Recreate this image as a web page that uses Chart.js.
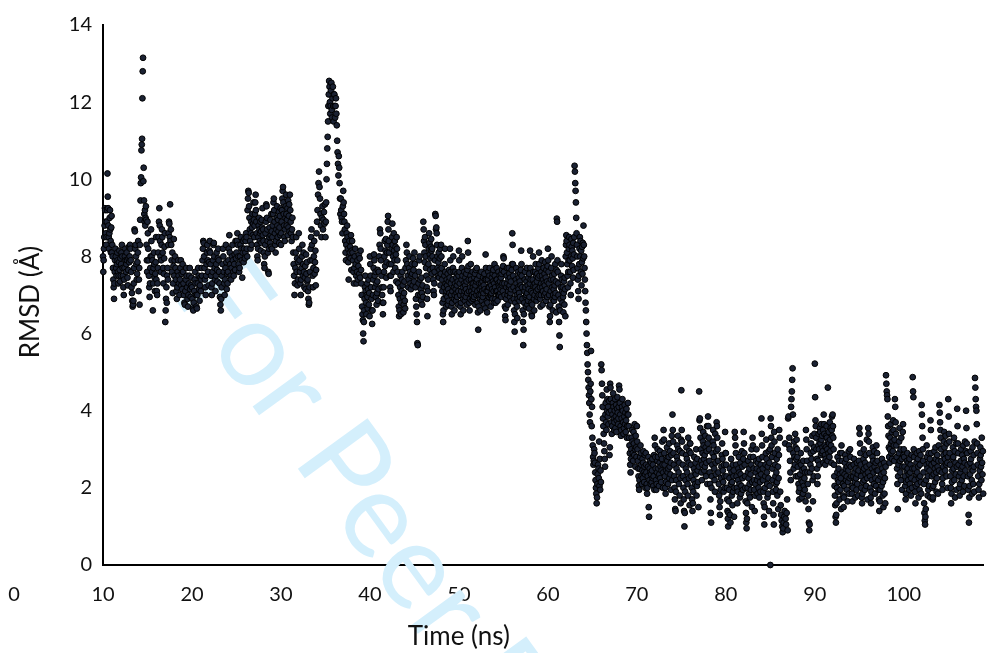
<!DOCTYPE html>
<html lang="en">
<head>
<meta charset="UTF-8">
<title>RMSD over time</title>
<script src="https://cdn.jsdelivr.net/npm/chart.js@4"></script>
<style>
  * { margin: 0; padding: 0; }
  body { background: #fff; width: 988px; height: 653px; overflow: hidden; }
</style>
</head>
<body>
<canvas id="chart" width="988" height="653"></canvas>
<script>
// RMSD, one inner list per nanosecond of time
const rmsd10s = [
  [8.0,7.6,7.9,8.2,8.5,8.8,9.25,9.2,8.9,8.6,8.3,8.5,8.9,9.2,10.15,9.55,9.25,8.8,8.5,8.2,8.6,9.0,9.2,8.7,8.4,8.1,8.75,9.05],
  [8.1,8.3,8.0,7.7,7.4,7.2,6.9,7.3,7.6,7.9,8.2,8.0,7.7,7.5,7.8,8.1,7.9,7.6,7.3,7.5,7.85,8.15,7.65,7.35,7.95],
  [7.5,7.8,8.1,8.3,8.0,7.7,7.5,7.2,7.0,7.4,7.7,8.0,8.2,7.9,7.6,7.8,8.1,7.9,7.45,7.25,7.65,7.95,8.25,7.85],
  [8.0,8.3,8.2,7.9,7.6,7.2,7.05,6.85,6.7,6.75,6.85,7.3,7.7,8.7,8.65,8.2,8.3,8.0,7.8,7.4,7.55,7.85,8.1,8.4],
  [7.1,7.4,7.7,6.75,8.3,8.95,9.45,9.9,10.05,10.75,10.9,11.05,12.1,12.8,13.15,9.95,10.3,9.45,9.1,8.9,9.2,8.8,9.0,9.3,8.95,8.3,7.9,7.6],
  [8.9,8.6,8.2,7.9,7.5,7.2,6.95,7.3,7.7,8.0,8.7,8.4,8.0,7.6,7.9,6.6,7.3,7.7,8.1,7.8,7.45,7.1,7.55,7.85,8.5],
  [7.4,7.1,7.0,7.3,7.7,8.1,8.5,8.9,9.25,8.8,8.4,8.0,7.6,7.9,8.3,8.7,8.5,8.1,7.7,7.3,7.55,7.95,8.25,8.6],
  [6.3,6.6,6.9,7.2,6.8,7.5,7.7,7.4,8.3,8.6,8.9,8.85,8.5,9.35,8.4,8.7,8.3,7.9,7.6,8.1,7.05,7.3,7.75,8.45],
  [7.5,7.9,8.0,7.7,7.4,7.1,6.9,7.2,7.6,7.9,7.5,7.3,7.0,7.4,7.7,7.9,7.25,7.55,7.15,7.8],
  [7.6,7.3,7.0,6.8,6.75,7.1,7.4,7.7,7.5,7.2,6.9,6.7,7.0,7.3,7.5,7.7,7.15,6.95,7.25,7.45]
];
const rmsd20s = [
  [7.2,6.9,6.65,6.6,6.8,7.1,7.4,7.6,7.3,7.0,6.7,6.65,7.0,7.3,7.7,7.5,7.15,6.85,7.25,7.45],
  [7.1,7.4,7.7,7.5,7.9,8.2,8.4,8.35,8.0,7.7,7.4,7.2,7.0,7.5,7.8,8.1,8.3,7.9,7.6,7.25,7.85,8.15],
  [8.4,8.1,7.8,7.5,7.2,7.0,7.3,7.6,7.9,8.3,8.35,8.0,7.7,7.4,7.1,7.5,7.8,8.1,7.65,7.35,7.95,8.2],
  [7.9,7.6,7.3,6.95,6.75,6.6,6.9,7.2,7.5,7.8,8.2,8.0,7.6,7.3,7.0,7.4,7.7,8.3,7.85,7.15,7.55],
  [7.3,7.6,7.9,8.2,8.55,8.1,7.8,7.5,7.4,7.7,8.0,8.3,7.9,7.6,7.5,7.8,8.05,7.65,8.4,7.95],
  [8.1,8.4,8.6,8.3,8.0,7.8,7.6,7.7,8.0,8.3,8.5,8.2,7.9,7.45,8.1,8.4,7.85,8.2,8.45,7.95],
  [8.1,8.4,8.6,8.5,8.2,8.0,9.2,9.5,9.7,9.65,9.3,9.0,8.7,8.4,8.2,8.6,8.9,8.3,8.75,9.1,8.55,8.85,9.4,8.95],
  [8.5,8.8,9.1,9.4,9.6,9.2,8.9,8.6,8.3,8.0,7.9,8.2,8.5,8.8,9.0,8.7,8.4,8.6,8.9,8.15,8.65,8.35,8.95,8.75,9.25,8.55],
  [8.7,8.4,8.1,7.8,7.7,8.0,8.3,8.6,8.9,9.35,9.3,9.0,8.7,8.4,8.1,7.6,7.55,8.2,8.5,8.75,8.35,8.95,8.55,8.25,9.1,8.65],
  [8.2,8.5,8.8,9.1,9.4,9.5,9.2,8.9,8.6,8.3,8.1,8.4,8.7,9.0,9.3,8.8,8.5,8.95,8.65,9.15,8.35,8.75,9.05,8.55,9.25]
];
const rmsd30s = [
  [8.3,8.6,8.9,9.2,9.5,9.7,9.8,9.4,9.1,8.8,8.5,8.4,8.7,9.0,9.3,9.6,9.1,8.8,8.95,9.25,8.55,9.45,8.75,9.05,9.35,8.65],
  [9.6,9.2,8.9,8.6,8.4,8.7,9.0,8.5,8.1,7.8,7.5,7.0,7.3,7.7,8.1,8.5,7.6,7.95,7.25,7.4,7.85],
  [8.6,8.2,7.9,7.6,7.3,7.0,7.4,7.7,8.0,8.3,7.5,7.8,8.1,7.6,7.2,7.45,7.75,7.15,8.05,7.55,7.85,7.35],
  [7.4,7.1,6.9,6.75,6.8,7.2,7.6,7.9,8.2,8.5,8.7,8.3,7.9,7.5,7.2,7.7,8.0,8.4,7.55,7.85,8.15,7.25,7.65],
  [8.6,8.9,9.2,9.6,9.9,10.2,9.8,9.5,9.1,8.8,8.5,9.0,9.3,8.7,8.95,9.15,8.85,9.35],
  [8.5,8.9,9.4,10.0,10.4,10.8,11.1,11.5,11.9,12.2,12.55,12.4,12.0,11.7,11.9,12.3,12.5,11.8,11.6,12.1,12.4,11.9,11.5,12.2],
  [12.2,11.9,11.6,11.9,12.1,11.7,11.4,11.0,10.7,10.4,10.1,10.6,10.3,9.9,9.5,9.1,9.5,9.2,9.0,8.9,8.6,9.3],
  [9.7,9.4,9.1,8.9,8.7,8.4,8.1,7.9,8.3,8.6,8.8,8.5,8.2,7.85,7.4,8.0,8.4,8.1,8.25,7.95,8.55,7.65,8.15],
  [8.4,8.1,7.9,7.6,7.3,7.7,8.0,8.2,7.8,7.5,7.3,7.6,7.9,7.4,7.75,8.05,7.55,7.95,7.45,8.15],
  [7.65,7.3,7.0,6.7,6.5,6.35,6.0,5.8,6.3,6.6,6.9,7.2,7.5,7.1,6.8,6.5,7.0,7.3,6.95,6.65,7.15,7.4,6.75,7.05,6.45]
];
const rmsd40s = [
  [8.0,7.8,7.5,7.2,6.9,6.6,6.25,6.6,7.0,7.4,7.7,8.05,7.9,7.5,7.2,7.6,6.95,7.3,6.75,7.05,7.35,7.65,6.85,7.15],
  [7.6,8.0,8.3,8.7,8.6,8.2,7.9,7.5,7.2,7.0,6.8,6.5,6.8,7.2,7.6,8.0,8.4,7.75,8.15,8.45,7.45,7.85,8.1,8.3],
  [8.9,9.05,8.7,8.4,8.1,7.8,7.5,7.2,7.1,7.5,7.8,8.2,8.5,8.85,8.3,8.0,7.6,8.6,8.15,7.9,8.4,7.7,8.25,8.05,7.35],
  [8.5,8.2,7.9,7.6,7.3,7.0,6.7,6.45,6.6,6.9,7.2,7.5,6.5,6.8,7.1,7.4,7.6,7.25,6.95,6.55,6.75,7.05,7.35,6.85,6.65],
  [7.7,7.9,8.3,8.1,7.8,7.5,7.2,7.4,7.7,8.0,7.6,7.3,7.15,7.5,7.8,7.55,7.25,7.95,7.65,7.35],
  [8.1,7.8,7.5,7.2,6.9,6.7,6.5,6.3,5.75,5.7,7.0,7.3,7.6,7.9,8.0,7.4,7.0,7.15,6.85,7.45,7.05,6.75,7.25,6.95],
  [8.9,8.7,8.4,8.1,7.85,8.5,8.3,8.0,7.7,7.5,7.2,6.9,6.45,7.1,7.4,7.8,8.2,8.6,8.35,8.05,7.65,7.95,8.25,8.45,8.15,7.55],
  [8.2,8.0,7.7,7.4,7.1,7.0,7.3,7.6,7.9,9.1,9.05,8.7,8.75,8.6,8.3,8.0,7.7,7.5,7.85,8.1,7.45,7.65,7.95,8.2,7.25,7.55],
  [8.3,8.0,7.7,7.4,7.1,6.8,6.5,6.3,6.6,6.9,7.2,7.5,7.8,8.2,7.6,7.3,7.0,6.7,7.1,7.4,7.25,6.95,7.55,6.75,7.15,6.85,7.35,7.65,7.05,7.45],
  [8.2,7.9,7.6,7.3,7.0,6.7,6.5,6.8,7.1,7.4,7.7,8.0,7.6,7.2,6.9,6.6,7.0,7.3,7.6,7.15,6.85,7.45,7.05,7.25,6.95,7.55,7.35,6.75,7.1,7.5]
];
const rmsd50s = [
  [8.15,7.9,7.6,7.3,7.0,6.7,6.5,6.8,7.1,7.4,7.7,8.0,7.5,7.2,6.9,6.6,7.0,7.3,7.6,7.1,6.85,7.25,7.45,6.95,7.15,7.55,7.35,6.75,7.05,7.65],
  [8.4,8.1,7.75,7.4,7.1,6.8,6.6,6.9,7.2,7.5,7.8,7.4,7.1,6.85,7.0,7.3,7.6,7.2,6.9,7.3,7.05,6.95,7.45,7.15,7.55,6.75,7.25,7.65,7.35,7.0],
  [7.7,7.4,7.1,6.8,6.55,6.1,6.7,7.0,7.3,7.5,7.15,6.9,6.6,7.0,7.3,7.6,7.2,6.85,7.1,7.35,6.95,7.45,7.05,7.25,6.75,7.55,7.15,7.4,6.65],
  [8.05,7.7,7.4,7.1,6.85,6.55,6.8,7.1,7.4,7.6,7.2,6.95,7.2,7.5,7.7,7.3,7.0,6.7,7.0,7.25,7.05,7.45,7.15,6.9,7.55,7.35,7.65,7.1,6.8,7.3],
  [7.8,7.5,7.2,6.9,6.8,7.1,7.4,7.7,7.4,7.1,6.85,7.0,7.3,7.6,7.25,7.0,7.2,7.5,7.35,7.05,7.15,7.45,6.95,7.55,7.25,7.65,7.3,7.1,7.75],
  [8.0,7.95,7.6,7.3,7.0,6.7,6.45,6.35,6.65,6.9,7.2,7.5,7.7,7.3,7.0,6.75,7.1,7.4,7.7,7.2,7.55,7.25,6.95,7.45,7.05,7.35,7.15,6.85,7.65,7.8],
  [8.6,8.3,7.8,7.5,7.2,6.9,6.6,6.3,6.05,6.5,6.8,7.1,7.4,7.7,7.3,7.0,6.7,6.4,6.9,7.2,7.6,7.15,7.45,7.05,6.85,7.35,6.95,7.55,7.25,7.65],
  [8.15,7.8,7.5,7.2,6.9,6.6,6.3,5.7,6.1,6.5,6.8,7.1,7.4,7.6,7.2,6.95,6.7,7.0,7.35,7.7,7.05,6.75,7.25,6.85,7.45,7.15,6.65,7.55,6.95,7.3],
  [8.15,7.7,7.4,7.1,6.8,6.5,6.45,6.75,7.05,7.4,8.0,7.6,7.25,6.9,6.6,7.0,7.3,7.6,7.2,7.8,7.5,7.1,6.85,7.35,7.55,6.95,7.15,7.45,7.7,7.0],
  [8.1,7.8,7.5,7.2,6.9,6.7,7.0,7.3,7.6,7.9,7.5,7.2,6.75,7.1,7.4,7.7,7.3,7.0,7.55,7.25,7.85,7.05,7.45,6.85,7.65,7.15,7.35,6.95,7.75]
];
const rmsd60s = [
  [8.2,7.9,7.6,7.3,7.0,6.7,6.3,6.45,6.75,7.1,7.4,7.7,8.0,7.5,7.2,6.9,6.6,7.0,7.4,7.15,6.85,7.55,7.25,6.95,7.8,7.05,7.35,6.55,7.65],
  [8.98,8.9,7.9,7.6,7.3,7.0,6.7,6.3,5.95,5.65,6.6,6.9,7.2,7.5,7.8,7.4,7.1,6.8,7.2,6.95,6.55,7.05,7.35,6.75,7.45,7.15,6.45],
  [8.0,8.3,8.55,8.4,8.1,7.8,7.5,7.2,7.6,7.9,8.2,8.5,8.3,7.9,7.6,7.3,7.0,8.0,8.45,8.25,7.75,8.15,7.95,7.45,8.35,7.65,8.05,8.5],
  [10.35,10.2,9.9,9.7,9.4,9.0,8.6,8.3,8.0,7.7,7.4,7.1,6.9,7.5,7.8,8.2,8.5,8.0,8.4,7.6,8.15,7.25,7.85,8.25,7.55,8.35,7.95],
  [8.8,8.3,8.0,7.7,7.4,7.1,6.8,6.6,6.3,6.0,5.7,5.5,5.2,5.0,4.8,4.6,4.4,4.2,3.9,3.7,4.5,4.7,5.55,4.3,3.6,4.1],
  [3.3,3.1,2.8,2.6,2.7,3.0,2.9,2.65,2.4,2.2,2.0,1.85,1.6,1.75,2.1,2.35,2.6,2.5,2.25,3.2,2.05,2.75,1.95,2.45,2.15],
  [5.2,5.05,4.7,4.4,4.1,3.8,3.6,3.4,3.15,2.95,2.75,2.55,3.9,4.2,3.7,3.5,4.55,4.0,4.3,3.85,4.1,3.65,3.95,4.25,2.85,3.05],
  [4.7,4.6,4.3,4.0,3.7,3.4,3.6,3.9,4.2,4.45,4.1,3.8,3.5,3.7,4.0,4.3,3.55,3.85,4.15,3.45,3.75,4.05,4.35,3.95,3.65,3.8,4.1],
  [4.65,4.55,4.2,3.9,3.6,3.35,3.5,3.8,4.1,4.3,4.0,3.7,3.4,3.55,3.85,4.15,3.65,3.95,3.45,3.75,4.05,3.3,3.6,3.9],
  [4.2,3.9,3.6,3.3,3.1,2.9,2.6,2.4,2.75,3.0,3.3,3.5,3.2,2.9,2.7,3.45,3.15,2.85,3.65,3.0,2.55,3.35,3.05,2.8]
];
const rmsd70s = [
  [3.6,3.2,3.0,2.7,2.5,2.3,2.05,1.95,2.2,2.5,2.8,3.1,2.9,2.6,2.3,2.1,2.45,2.75,2.25,2.65,2.95,2.4,2.15,2.55,2.85,2.35,2.0],
  [2.9,2.6,2.4,2.1,1.85,2.0,2.3,2.55,2.8,1.5,1.25,2.2,2.5,2.7,2.4,2.1,2.35,2.65,2.15,2.45,2.75,2.25,2.6,2.05,2.3,2.85,1.95],
  [3.3,3.1,2.8,2.5,2.2,1.95,2.1,2.4,2.7,3.0,2.8,2.5,2.3,2.05,2.35,2.65,2.95,2.25,2.55,2.85,2.15,2.45,2.75,3.2,2.6,2.0,2.4],
  [3.5,3.25,2.9,2.6,2.3,2.0,1.85,2.15,2.45,2.75,3.05,2.7,2.4,2.1,2.5,2.8,3.15,2.25,2.55,2.95,2.35,2.65,1.95,2.85,3.35,2.2],
  [3.9,3.5,3.2,2.9,2.6,2.3,2.0,1.7,1.45,1.4,1.9,2.2,2.5,2.8,3.1,2.7,3.35,3.0,2.4,2.1,2.65,1.8,2.95,2.25,1.6,3.25],
  [4.53,3.5,3.2,2.9,2.6,2.3,2.0,1.7,1.4,1.0,1.35,1.9,2.2,2.5,2.85,3.05,2.75,2.4,2.1,1.8,3.3,2.65,2.25,2.95,1.55,3.15],
  [3.15,2.9,2.6,2.3,2.0,1.7,1.4,1.6,1.9,2.2,2.5,2.8,2.4,2.1,2.65,2.35,3.0,1.8,2.05,2.75,2.45,2.15,1.5,2.55],
  [4.5,3.75,3.8,3.55,3.3,3.0,2.7,2.4,2.2,2.6,2.9,3.2,3.45,3.1,2.75,2.45,2.85,2.55,3.35,3.05,2.3,2.65,2.95,3.6,2.1,3.15],
  [3.85,3.6,3.3,3.0,2.7,2.4,2.1,1.7,1.35,1.1,2.0,2.3,2.6,2.9,3.2,3.5,3.1,2.8,2.5,2.2,1.9,3.4,2.65,2.35,2.95,3.7],
  [3.6,3.3,3.0,2.7,2.4,2.1,1.8,1.5,1.3,1.65,1.95,2.25,2.55,2.85,3.15,2.75,2.45,2.15,1.9,2.6,2.3,2.0,3.45,2.9]
];
const rmsd80s = [
  [2.9,2.6,2.3,2.0,1.7,1.4,1.2,1.0,1.35,1.65,1.95,2.25,2.5,1.3,1.1,2.1,2.75,2.4,1.8,2.15,1.55,2.6,1.9,2.3,2.45,1.25,2.0],
  [3.45,3.3,3.1,2.9,2.6,2.3,2.0,1.6,1.9,2.2,2.5,2.8,2.4,2.1,1.75,2.65,2.35,1.85,2.05,2.95,2.55,2.25,1.95,2.75],
  [3.45,3.15,2.9,2.6,2.3,2.0,1.65,1.35,1.1,0.95,1.2,1.6,2.0,2.4,2.7,2.25,1.85,2.5,2.1,1.75,2.8,2.35,1.95,2.6,3.0,1.5,2.15],
  [3.3,3.1,2.8,2.5,2.2,1.95,1.4,1.8,2.1,2.4,2.7,3.0,2.5,2.2,1.85,2.65,2.3,2.0,2.75,1.75,2.45,2.15,1.9,2.6,2.35],
  [3.8,3.4,3.1,2.8,2.5,2.2,1.9,1.6,1.25,1.05,1.5,2.0,2.3,2.6,2.9,3.25,2.75,2.4,2.1,1.75,2.55,1.85,2.25,2.95,1.4,2.65,2.05,3.0],
  [0,3.8,3.6,3.3,3.1,2.8,2.5,2.2,1.9,1.6,1.3,1.05,3.45,3.2,2.9,2.6,2.3,2.1,1.95,2.4,2.75,2.15,1.8,3.0,2.55,1.45,2.25,2.85],
  [3.5,3.3,1.9,1.55,1.3,1.15,1.0,0.85,0.95,1.1,1.25,1.4,3.15,1.2,1.05,1.35,1.7,0.9],
  [3.8,3.85,3.1,3.3,3.0,2.7,2.4,2.2,4.1,4.3,4.5,4.8,5.1,3.9,2.9,2.5,3.2,2.8,2.6,3.4,3.05,2.3,2.75,3.25],
  [3.0,2.8,2.55,2.3,2.1,1.9,1.7,2.0,2.35,2.65,2.9,2.6,2.2,1.75,2.45,2.15,1.85,2.7,2.05,2.5,2.25,1.95,2.4,1.65],
  [3.5,3.25,3.0,2.7,2.4,2.1,1.8,1.45,1.1,0.9,1.05,2.4,2.6,2.9,3.15,2.75,2.5,3.35,2.2,1.65,2.95,2.3,3.05,3.4]
];
const rmsd90s = [
  [5.22,4.35,3.75,3.6,3.3,3.0,2.75,2.5,2.1,2.3,2.7,3.1,3.4,3.0,2.6,3.2,3.55,3.45,3.15,2.85,3.65,3.25,2.9,3.35,3.05,2.95,3.5,2.65],
  [3.9,3.65,3.4,3.1,2.85,2.6,2.75,3.05,3.35,3.6,3.3,3.0,2.7,4.6,3.2,2.9,3.45,3.15,2.8,3.7,3.25,2.95,3.55,3.1,2.65,3.5,3.85,3.35],
  [3.9,3.6,3.3,3.0,2.6,2.3,2.05,1.8,1.55,1.25,1.1,1.3,1.6,2.0,2.4,2.8,2.2,1.9,2.5,2.15,2.7,1.7,2.35,2.9,1.95,2.25,1.45],
  [3.1,2.9,2.7,2.4,2.1,1.8,1.5,1.75,2.05,2.35,2.65,2.85,2.5,2.2,2.75,2.3,1.95,2.55,1.65,2.15,2.45,2.95,1.85,2.6,2.25,3.0],
  [2.8,2.55,2.3,2.05,1.85,1.65,2.0,2.3,2.6,2.75,2.4,2.15,1.75,2.5,2.25,1.95,2.65,2.1,2.35,1.8,2.45,2.7],
  [3.55,3.4,3.15,2.9,2.6,2.3,2.0,1.75,1.6,1.85,2.15,2.45,2.75,3.0,2.5,2.2,1.95,2.65,2.35,2.85,2.05,2.55,3.25,2.25,1.7,2.4],
  [3.55,3.4,3.2,2.9,2.6,2.3,2.0,1.75,1.6,1.9,2.2,2.5,2.8,3.05,2.7,2.4,2.1,2.95,2.55,1.85,2.25,2.65,2.05,3.1,2.45],
  [2.9,2.7,2.45,2.2,1.95,1.7,1.4,1.65,1.95,2.3,2.6,2.35,2.05,2.75,2.5,1.8,2.15,1.5,2.4,2.65,1.85,2.25,1.6,2.55],
  [4.92,4.7,4.5,4.4,4.3,3.85,3.6,3.35,3.05,2.8,2.65,3.0,3.3,3.65,3.15,2.9,3.45,2.75,3.2,2.95,3.75,3.5,3.1,2.7,3.25],
  [4.3,4.1,3.7,3.4,3.1,2.8,2.5,2.1,1.45,2.3,2.6,2.9,3.2,3.55,2.7,2.4,3.0,2.2,3.3,2.75,1.95,2.55,3.45,3.65,2.85]
];
const rmsd100s = [
  [3.0,2.8,2.55,2.3,2.05,1.7,1.85,2.15,2.45,2.7,2.9,2.5,2.2,2.65,2.35,1.95,2.75,2.1,2.4,2.6,1.8,2.25,2.85,2.0,2.5],
  [4.87,4.5,4.35,3.0,2.8,2.5,2.2,1.9,1.6,2.05,2.35,2.65,2.9,2.4,2.1,2.75,2.55,1.75,2.25,2.95,1.95,2.6,2.3,2.85,2.15,1.85],
  [4.15,3.9,3.6,3.3,3.0,2.7,2.4,2.1,1.6,1.35,1.15,1.05,1.25,1.45,2.2,2.6,3.1,2.8,2.5,1.8,2.3,1.95,2.9,2.65,2.05,2.45,2.75,1.75],
  [3.75,3.5,2.9,2.6,2.3,2.0,1.7,1.75,2.05,2.35,2.65,2.95,2.5,2.15,3.05,2.75,2.4,1.9,2.25,2.85,2.55,1.85,2.7,3.1,2.45],
  [4.15,3.95,3.7,3.5,3.3,3.0,2.7,2.4,2.1,1.95,2.25,2.55,2.85,3.2,3.45,3.05,2.75,2.45,3.35,2.9,2.6,2.3,3.15,2.65,2.0,2.8],
  [4.3,3.85,3.4,3.2,2.9,2.6,2.3,2.0,1.6,1.85,2.15,2.45,2.75,3.05,2.8,2.5,3.3,2.2,2.95,1.75,2.65,2.35,3.15,1.95,2.55],
  [4.05,3.6,3.15,2.9,2.6,2.3,2.0,1.8,2.1,2.4,2.7,3.0,2.5,2.2,2.85,2.55,1.9,3.1,2.3,2.75,2.05,2.65,3.2,2.45,2.95],
  [4.0,3.55,3.15,2.9,2.6,2.3,1.95,1.3,1.1,1.75,2.05,2.35,2.65,2.95,2.75,2.5,2.2,1.85,3.05,2.45,2.1,2.85,2.55,1.9,3.2],
  [4.85,4.6,4.3,4.1,4.0,3.65,3.15,2.9,2.6,2.3,1.95,1.75,2.1,2.45,2.75,3.05,2.85,2.55,2.2,3.3,2.65,2.35,2.95,1.85,3.5]
];
const decades = [rmsd10s, rmsd20s, rmsd30s, rmsd40s, rmsd50s, rmsd60s, rmsd70s, rmsd80s, rmsd90s, rmsd100s];
const xTicks = [0, 10, 20, 30, 40, 50, 60, 70, 80, 90, 100];
const yTicks = [0, 2, 4, 6, 8, 10, 12, 14];

const FONT = 'Lato, "Liberation Sans", sans-serif';

// Frames sit evenly inside their nanosecond
const points = [];
decades.forEach((decade, d) => {
  decade.forEach((row, n) => {
    row.forEach((value, j) => {
      points.push({ x: 10 + d * 10 + n + j / row.length, y: value });
    });
  });
});

const extras = {
  id: 'extras',
  beforeDatasetsDraw(chart) {
    const ctx = chart.ctx;
    // Journal watermark behind the data
    ctx.save();
    ctx.translate(171, 294);
    ctx.rotate(54 * Math.PI / 180);
    ctx.font = '120px ' + FONT;
    ctx.fillStyle = '#d4effc';
    ctx.textAlign = 'left';
    ctx.textBaseline = 'alphabetic';
    ctx.fillText('For Peer Review', 0, 0);
    ctx.restore();
  },
  afterDraw(chart) {
    const ctx = chart.ctx;
    const x = chart.scales.x;
    ctx.save();
    ctx.fillStyle = '#111';
    ctx.textAlign = 'center';
    ctx.textBaseline = 'middle';
    // The axis starts at 10 but the picture still labels 0 out to the left
    ctx.font = '20px ' + FONT;
    ctx.fillText(String(xTicks[0]), x.getPixelForValue(xTicks[0]), 595);
    ctx.font = '26px ' + FONT;
    ctx.fillText('Time (ns)', x.getPixelForValue(50), 637);
    ctx.translate(31, 302);
    ctx.rotate(-Math.PI / 2);
    ctx.fillText('RMSD (Å)', 0, 0);
    ctx.restore();
  }
};

new Chart(document.getElementById('chart'), {
  type: 'scatter',
  data: {
    datasets: [{
      data: points,
      pointStyle: 'circle',
      pointRadius: 2.9,
      pointBackgroundColor: '#1b2233',
      pointBorderColor: '#000',
      pointBorderWidth: 1,
      clip: false
    }]
  },
  plugins: [extras],
  options: {
    responsive: false,
    animation: false,
    layout: { padding: { top: 25, left: 0, right: 0, bottom: 0 } },
    plugins: { legend: { display: false }, tooltip: { enabled: false } },
    scales: {
      x: {
        type: 'linear',
        min: 10,
        max: 108.9,
        afterFit(scale) { scale.height = 88; },
        grid: { display: false, drawTicks: false },
        border: { display: true, color: '#000', width: 2 },
        afterBuildTicks(scale) { scale.ticks = xTicks.slice(1).map(v => ({ value: v })); },
        ticks: { color: '#111', font: { family: FONT, size: 20 }, padding: 18, maxRotation: 0, autoSkip: false }
      },
      y: {
        min: 0,
        max: 14,
        afterFit(scale) { scale.width = 103; },
        grid: { display: false, drawTicks: false },
        border: { display: true, color: '#000', width: 2 },
        afterBuildTicks(scale) { scale.ticks = yTicks.map(v => ({ value: v })); },
        ticks: { color: '#111', font: { family: FONT, size: 20 }, padding: 11 }
      }
    }
  }
});
</script>
</body>
</html>
